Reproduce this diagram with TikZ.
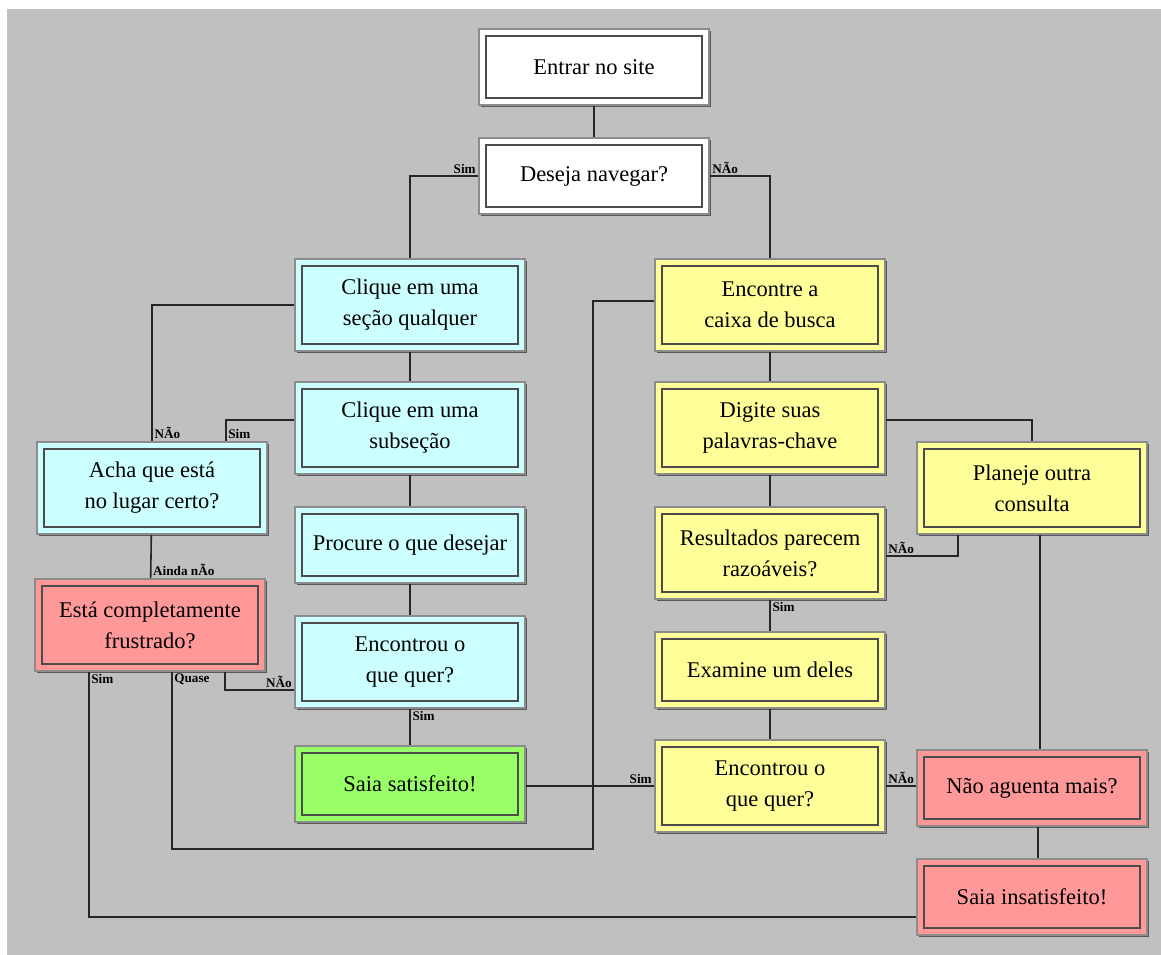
\documentclass[tikz,border=0pt]{standalone}
\usepackage{fontspec}
\setmainfont{Liberation Serif}
\usetikzlibrary{positioning, calc, shadows}

\definecolor{bggray}{HTML}{C0C0C0}
\definecolor{boxcyan}{HTML}{CCFFFF}
\definecolor{boxyellow}{HTML}{FFFF99}
\definecolor{boxred}{HTML}{FF9999}
\definecolor{boxgreen}{HTML}{99FF66}

\tikzset{
    flowbox/.style={draw=black!45, line width=0.9pt, align=center,
        minimum width=4.6cm, minimum height=1.84cm, inner sep=2pt,
        font=\fontsize{12.8}{17.6}\selectfont,
        drop shadow={shadow xshift=0.9pt, shadow yshift=-0.9pt, opacity=1, fill=black!65},
        path picture={\draw[black!70, line width=0.9pt]
            ([shift={(0.14cm,-0.14cm)}]path picture bounding box.north west) rectangle
            ([shift={(-0.14cm,0.14cm)}]path picture bounding box.south east);}},
    short/.style={minimum height=1.52cm},
    whitebox/.style={flowbox, fill=white},
    cyanbox/.style={flowbox, fill=boxcyan},
    yellowbox/.style={flowbox, fill=boxyellow},
    redbox/.style={flowbox, fill=boxred},
    greenbox/.style={flowbox, fill=boxgreen},
    conn/.style={draw=black!85, line width=0.9pt},
    lbl/.style={font=\fontsize{7.5}{8}\selectfont\bfseries, inner sep=1pt}
}

\begin{document}
\begin{tikzpicture}[x=0.02cm, y=-0.02cm]
        \useasboundingbox (0, 0) rectangle (1161, 955);
        \fill[white] (0, 0) rectangle (1161, 955);
        \fill[bggray] (7, 9) rectangle (1161, 955);

        % left column
        \path (594, 67) node[whitebox, short](Entrar){Entrar no site};
        \path (594, 176) node[whitebox, short](Deseja){Deseja navegar?};
        \path (410, 305) node[cyanbox](Secao){Clique em uma \\ seção qualquer};
        \path (410, 428) node[cyanbox](Subsecao){Clique em uma \\ subseção};
        \path (410, 545) node[cyanbox, short](Procure){Procure o que desejar};
        \path (410, 662) node[cyanbox](EncontrouA){Encontrou o \\ que quer?};
        \path (410, 784) node[greenbox, short](Satisfeito){Saia satisfeito!};
        \path (152, 488) node[cyanbox](Acha){Acha que está \\ no lugar certo?};
        \path (150, 625) node[redbox](Frustrado){Está completamente \\ frustrado?};

        % right column
        \path (770, 305) node[yellowbox](Encontre){Encontre a \\ caixa de busca};
        \path (770, 428) node[yellowbox](Digite){Digite suas \\ palavras-chave};
        \path (770, 553) node[yellowbox](Resultados){Resultados parecem \\ razoáveis?};
        \path (770, 670) node[yellowbox, short](Examine){Examine um deles};
        \path (770, 786) node[yellowbox](EncontrouB){Encontrou o \\ que quer?};
        \path (1032, 488) node[yellowbox](Planeje){Planeje outra \\ consulta};
        \path (1032, 788) node[redbox, short](Aguenta){Não aguenta mais?};
        \path (1032, 897) node[redbox, short](Insatisfeito){Saia insatisfeito!};

        % connectors
        \draw[conn] (Entrar) -- (Deseja);
        \draw[conn] (Deseja.west) -| (Secao.north)
            node[at start, above left, lbl] {Sim};
        \draw[conn] (Deseja.east) -| (Encontre.north)
            node[at start, above right, lbl] {NÃo};
        \draw[conn] (Secao) -- (Subsecao);
        \draw[conn] (Subsecao) -- (Procure);
        \draw[conn] (Procure) -- (EncontrouA);
        \draw[conn] (Secao.west) -| (Acha.north)
            node[at end, above right, lbl] {NÃo};
        \coordinate (AchaSim) at ($(Acha.north east) + (-42, 0)$);
        \draw[conn] ($(Subsecao.west) + (0, -8)$) -| (AchaSim)
            node[at end, above right, lbl] {Sim};
        \draw[conn] (Acha) -- (Frustrado)
            node[at end, above right, lbl] {Ainda nÃo};
        \draw[conn] (EncontrouA) -- (Satisfeito)
            node[at start, below right, lbl] {Sim};

        \coordinate (FrNao) at ($(Frustrado.south east) + (-41, 0)$);
        \draw[conn] (FrNao) |- ($(EncontrouA.west) + (0, 28)$)
            node[at end, above left, lbl] {NÃo};
        \coordinate (FrQuase) at ($(Frustrado.south west) + (138, 0)$);
        \draw[conn] (FrQuase) -- ++(0, 177) -| ($(Encontre.west) + (-61, -4)$)
            -- ($(Encontre.west) + (0, -4)$);
        \path (FrQuase) node[below right, lbl] {Quase};
        \coordinate (FrSim) at ($(Frustrado.south west) + (55, 0)$);
        \draw[conn] (FrSim) |- ($(Insatisfeito.west) + (0, 20)$);
        \path (FrSim) node[below right, lbl] {Sim};

        \draw[conn] (EncontrouB.west) -- (EncontrouB.west -| Satisfeito.east)
            node[at start, above left, lbl] {Sim};
        \draw[conn] (Encontre) -- (Digite);
        \draw[conn] (Digite) -- (Resultados);
        \draw[conn] (Resultados) -- (Examine)
            node[at start, below right, lbl] {Sim};
        \draw[conn] (Examine) -- (EncontrouB);
        \draw[conn] ($(Digite.east) + (0, -8)$) -| (Planeje.north);
        \draw[conn] ($(Resultados.east) + (0, 3)$) -| ($(Planeje.south west) + (42, 0)$)
            node[at start, above right, lbl] {NÃo};
        \draw[conn] (EncontrouB.east) -- (EncontrouB.east -| Aguenta.west)
            node[at start, above right, lbl] {NÃo};
        \draw[conn] ($(Planeje.south) + (8, 0)$) -- ($(Aguenta.north) + (8, 0)$);
        \draw[conn] ($(Aguenta.south) + (6, 0)$) -- ($(Insatisfeito.north) + (6, 0)$);
    \end{tikzpicture}
\end{document}
